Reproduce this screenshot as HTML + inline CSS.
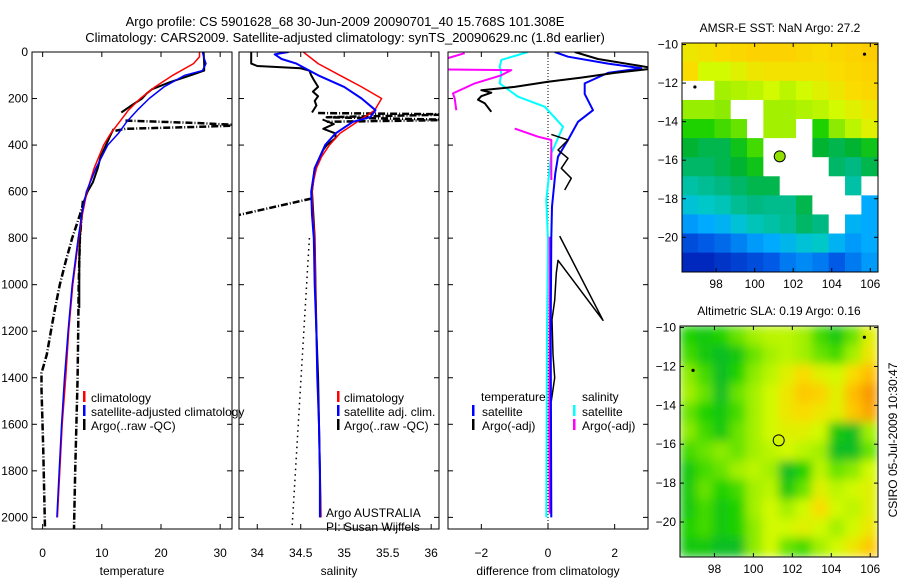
<!DOCTYPE html>
<html><head><meta charset="utf-8"><style>
body{margin:0;background:#fff;width:900px;height:580px;overflow:hidden}
svg{display:block;font-family:"Liberation Sans",sans-serif;font-size:12px}
</style></head><body>
<svg id="fig" width="900" height="580" viewBox="0 0 900 580">
<text x="345" y="26" text-anchor="middle" font-size="13">Argo profile: CS 5901628_68 30-Jun-2009 20090701_40 15.768S 101.308E</text>
<text x="345" y="42" text-anchor="middle" font-size="13">Climatology: CARS2009. Satellite-adjusted climatology: synTS_20090629.nc (1.8d earlier)</text>
<text transform="translate(897,440) rotate(-90)" text-anchor="middle">CSIRO 05-Jul-2009 10:30:47</text>
</svg>
<script>
// ---- Panel 1: temperature ----
const tClimDepth=[0,20,50,100,150,200,250,300,350,400,500,600,700,800,900,1000,1200,1400,1600,1800,2000];
const tClim=[26.5,26.5,25.5,22,19,16.5,14.5,13,11.5,10.3,8.7,7.5,6.7,6.1,5.6,5.1,4.4,3.9,3.3,2.9,2.5];
const tSatDepth=[0,20,50,80,100,150,200,250,300,350,400,500,600,700,800,900,1000,1200,1400,1600,1800,2000];
const tSat=[27,27.2,27.6,27,24,20.5,18,16,14.2,12.8,11,9,7.4,6.6,6.0,5.5,5.0,4.3,3.7,3.2,2.8,2.4];
const tArgoADepth=[0,50,80,100,130,160,180,200,230,260];
const tArgoA=[27.2,27.3,27.3,25,21.5,18.5,17.5,16.8,15,13.3];
const tArgoBDepth=[330,350,400,450,500,560,600,640,700,800,900,1000,1100];
const tArgoB=[12,11.6,10.7,9.8,9.3,8.5,7.6,7.0,6.6,6.3,6.2,6.2,6.2];
const tRaw1Depth=[295,305,315,322,330,340];
const tRaw1=[14,26,34,26,14,12];
const tRaw2Depth=[640,700,800,900,1000,1100,1200,1300,1380,1450,1700,2050];
const tRaw2=[7,6.3,5.0,3.9,2.9,2.1,1.4,0.7,-0.2,-0.2,0.1,0.4];
const tRaw3Depth=[640,800,1000,1200,1400,1600,1800,2050];
const tRaw3=[6.8,6.3,6.1,6.0,5.9,5.7,5.5,5.3];
const tTicks=[0,10,20,30];
const depthTicks=[0,200,400,600,800,1000,1200,1400,1600,1800,2000];
// ---- Panel 2: salinity ----
const sClimDepth=[0,50,100,150,200,250,300,350,400,450,500,550,600,700,800,1000,1200,1400,1600,1800,2000];
const sClim=[34.53,34.7,34.95,35.2,35.43,35.35,35.15,34.95,34.83,34.74,34.68,34.65,34.63,34.64,34.66,34.67,34.68,34.69,34.71,34.72,34.73];
const sSatDepth=[0,10,30,50,100,150,200,250,280,300,350,400,500,600,700,800,1000,1200,1400,1600,1800,2000];
const sSat=[34.36,34.2,34.28,34.45,34.7,35.0,35.2,35.36,35.3,35.1,34.9,34.78,34.66,34.62,34.63,34.65,34.66,34.68,34.69,34.71,34.72,34.72];
const sArgoADepth=[0,50,60,70,80,100,120,150,170,190,210,230,260];
const sArgoA=[33.93,33.93,34.0,34.5,34.6,34.62,34.65,34.7,34.64,34.7,34.66,34.68,34.63];
const sArgoBDepth=[290,310,330,350,370,400,420,500,600,800,1000,1200,1400,1600,1800,2000];
const sArgoB=[34.75,34.88,34.76,34.9,34.9,34.8,34.76,34.66,34.63,34.66,34.67,34.68,34.7,34.71,34.72,34.73];
const sRaw1Depth=[262,268,280,292,300];
const sRaw1=[34.7,36.3,34.8,36.3,34.8];
const sRaw2Depth=[630,700];
const sRaw2=[34.62,33.79];
const sDotDepth=[800,2050];
const sDot=[34.6,34.4];
const sTicks=[34,34.5,35,35.5,36];
// ---- Panel 3: differences ----
const dTSatDepth=[0,20,50,70,90,135,180,250,300,378,450,522,665,800,1200,2000];
const dTSat=[0.2,0.6,1.8,2.8,1.8,1.1,1.1,1.35,0.9,0.6,0.3,0.22,0.12,0.1,0.08,0.1];
const dTArgo1Depth=[0,30,70,90,110,128,150,164,175,190,205,220,257];
const dTArgo1=[0.8,1.5,3.2,2.0,1.0,0.0,-1.0,-2.0,-1.7,-2.0,-2.1,-1.9,-1.7];
const dTArgo2Depth=[354,378,421,457,500,543,593];
const dTArgo2=[0.1,0.6,0.3,0.6,0.4,0.7,0.5];
const dTArgo3Depth=[791,1153,895,950,1067,1150,1300,1400,1500];
const dTArgo3=[0.35,1.65,0.3,0.25,0.2,0.12,0.15,0.2,0.1];
const dSSatDepth=[0,34,63,92,135,192,235,321,436,637,808,1200,2000];
const dSSat=[-0.6,-1.4,-1.45,-1.4,-1.45,-0.9,-0.1,0.45,0.1,-0.05,0,-0.03,-0.05];
const dSArgo1Depth=[5,30,75,78,100,135,178,200,250];
const dSArgo1=[-2.5,-3.1,-3.1,-1.1,-1.4,-2.2,-2.85,-2.8,-2.75];
const dSArgo2Depth=[329,364,378,436,550];
const dSArgo2=[-1.0,-0.3,0.1,0.1,0.1];
const dSArgo3Depth=[794,1200,1600,1984];
const dSArgo3=[0.05,0.05,0.04,0.05];
const dTicks=[-2,0,2];
// ---- Maps ----
const lonTicks=[98,100,102,104,106];
const latTicks=[-10,-12,-14,-16,-18,-20];
const N=null;
const sstGrid=[
[.74,.75,.76,.77,.78,.78,.78,.77,.76,.77,.78,.79],
[.76,.70,.70,.72,.74,.75,.75,.75,.75,.76,.77,.78],
[N,N,.66,.67,.68,.70,.68,.70,.72,.74,.76,.77],
[.65,.65,.64,N,N,.66,.66,.67,.68,.70,.72,.74],
[.58,.58,.60,.62,N,.66,.66,N,.58,.64,.68,.72],
[.52,.50,.50,.55,.60,N,N,N,.52,.50,.52,.55],
[.48,.48,.50,.52,.55,N,N,N,N,.48,.46,.50],
[.42,.44,.46,.48,.50,.50,N,N,N,N,.42,N],
[.36,.38,.40,.44,.46,.45,.45,.50,N,N,N,.30],
[.28,.30,.32,.36,.40,.42,.44,.48,.46,N,.32,.30],
[.18,.20,.22,.25,.28,.30,.33,.36,.38,.32,.28,.30],
[.12,.12,.14,.16,.18,.20,.24,.26,.24,.20,.24,.28]];
const slaGrid=[
[.58,.56,.58,.62,.66,.68,.68,.66,.60,.56,.62,.72],
[.60,.56,.54,.56,.62,.66,.68,.66,.62,.60,.66,.74],
[.64,.60,.54,.58,.64,.68,.72,.76,.72,.70,.76,.82],
[.66,.62,.54,.62,.66,.70,.74,.80,.78,.72,.82,.88],
[.62,.58,.56,.60,.66,.70,.74,.76,.74,.72,.80,.86],
[.64,.60,.56,.62,.66,.70,.72,.72,.70,.56,.54,.66],
[.60,.62,.64,.62,.66,.68,.70,.68,.66,.54,.54,.62],
[.56,.60,.62,.66,.68,.66,.54,.58,.68,.62,.64,.70],
[.56,.62,.58,.60,.66,.68,.56,.62,.72,.68,.70,.72],
[.56,.60,.56,.58,.66,.70,.66,.70,.76,.70,.68,.72],
[.58,.60,.56,.58,.64,.70,.70,.72,.70,.66,.70,.74],
[.56,.56,.54,.54,.64,.70,.62,.60,.66,.70,.74,.80]];
const argoLon=[101.3], argoLat=[-15.8];
const markLon=[105.7,96.9], markLat=[-10.5,-12.2];

const NS='http://www.w3.org/2000/svg', svg=document.getElementById('fig');
function mk(tag,at,parent){const e=document.createElementNS(NS,tag);for(const k in at)e.setAttribute(k,at[k]);(parent||svg).appendChild(e);return e;}
function lin(d0,d1,r0,r1){return v=>r0+(v-d0)*(r1-r0)/(d1-d0);}
const yD=lin(0,2050,52,529);

function panel(name,x0,x1,xmin,xmax,xt,xlabel,showY,fmt){
  const xs=lin(xmin,xmax,x0,x1);
  const g=mk('g',{});
  
  
  const cid='clip-'+name;
  const cp=mk('clipPath',{id:cid},g);mk('rect',{x:x0,y:52,width:x1-x0,height:477},cp);
  const plot=mk('g',{'clip-path':'url(#'+cid+')'},g);
  depthTicks.forEach(d=>{const y=yD(d);
    mk('line',{x1:x0,x2:x0+5,y1:y,y2:y,stroke:'#000'},g);mk('line',{x1:x1,x2:x1-5,y1:y,y2:y,stroke:'#000'},g);
    if(showY){const t=mk('text',{x:x0-4,y:y+4,'text-anchor':'end'},g);t.textContent=d;
      }});
  xt.forEach(v=>{const x=xs(v);
    mk('line',{x1:x,x2:x,y1:529,y2:524,stroke:'#000'},g);mk('line',{x1:x,x2:x,y1:52,y2:57,stroke:'#000'},g);
    const t=mk('text',{x:x,y:557,'text-anchor':'middle'},g);t.textContent=fmt?fmt(v):v;
    });
  const xl=mk('text',{x:(x0+x1)/2,y:575,'text-anchor':'middle'},g);xl.textContent=xlabel;
  
  mk('rect',{x:x0,y:52,width:x1-x0,height:477,fill:'none',stroke:'#000'},g);
  return {plot,xs};
}
function line(p,name,ds,vs,color,w,dash){
  const pts=ds.map((d,i)=>p.xs(vs[i]).toFixed(1)+','+yD(d).toFixed(1)).join(' ');
  const a={points:pts,fill:'none',stroke:color,'stroke-width':w,'stroke-linejoin':'round'};
  if(dash)a['stroke-dasharray']=dash;
  const e=mk('polyline',a,p.plot);
  
  
}
function txt(x,y,s,name,color){const t=mk('text',{x:x,y:y,fill:color||'#000'});t.textContent=s;
  return t;}
function bar(x,y,c,name){const e=mk('rect',{x:x,y:y-10,width:2.5,height:11,fill:c});
  }

const DD='7,2,1,2';
const p1=panel('temperature-panel',32,232,-1.8,32,tTicks,'temperature',true);
line(p1,'argo-raw-line',tRaw1Depth,tRaw1,'#000',2.5,DD);
line(p1,'argo-raw-line',tRaw2Depth,tRaw2,'#000',2.5,DD);
line(p1,'argo-raw-line',tRaw3Depth,tRaw3,'#000',2.5,DD);
line(p1,'argo-qc-line',tArgoADepth,tArgoA,'#000',2);
line(p1,'argo-qc-line',tArgoBDepth,tArgoB,'#000',2);
line(p1,'climatology-line',tClimDepth,tClim,'#f00',1.5);
line(p1,'satellite-adjusted-line',tSatDepth,tSat,'#00f',1.5);
bar(83,401,'#f00','legend-climatology-marker');txt(91,402,'climatology','legend-climatology');
bar(83,415,'#00f','legend-satellite-marker');txt(91,416,'satellite-adjusted climatology','legend-satellite');
bar(83,429,'#000','legend-argo-marker');txt(91,430,'Argo(..raw -QC)','legend-argo');

const p2=panel('salinity-panel',239,439,33.79,36.09,sTicks,'salinity',false);
line(p2,'argo-raw-line',sRaw1Depth,sRaw1,'#000',2.5,DD);
line(p2,'argo-raw-line',sRaw2Depth,sRaw2,'#000',2.5,DD);
line(p2,'dotted-reference-line',sDotDepth,sDot,'#000',1.5,'1.5,4');
line(p2,'argo-qc-line',sArgoADepth,sArgoA,'#000',2);
line(p2,'argo-qc-line',sArgoBDepth,sArgoB,'#000',2);
line(p2,'climatology-line',sClimDepth,sClim,'#f00',1.5);
line(p2,'satellite-adjusted-line',sSatDepth,sSat,'#00f',2);
bar(337,401,'#f00','legend-climatology-marker');txt(344,402,'climatology','legend-climatology');
bar(337,415,'#00f','legend-satellite-marker');txt(344,416,'satellite adj. clim.','legend-satellite');
bar(337,429,'#000','legend-argo-marker');txt(344,430,'Argo(..raw -QC)','legend-argo');
txt(326,517,'Argo AUSTRALIA','argo-australia-label');
txt(326,531,'PI: Susan Wijffels','pi-label');

const p3=panel('difference-panel',448,648,-3.0,3.0,dTicks,'difference from climatology',false,v=>v===0?'0':(v<0?'\u22122':'2'));
mk('line',{x1:p3.xs(0),x2:p3.xs(0),y1:52,y2:529,stroke:'#000','stroke-dasharray':'1,2'},p3.plot);
line(p3,'temp-argo-diff-line',dTArgo3Depth,dTArgo3,'#000',1.5);
line(p3,'sal-sat-diff-line',dSSatDepth,dSSat,'#0ff',2);
line(p3,'sal-argo-diff-line',dSArgo1Depth,dSArgo1,'#f0f',2);
line(p3,'sal-argo-diff-line',dSArgo2Depth,dSArgo2,'#f0f',2);
line(p3,'sal-argo-diff-line',dSArgo3Depth,dSArgo3,'#f0f',2);
line(p3,'temp-sat-diff-line',dTSatDepth,dTSat,'#00f',2);
line(p3,'temp-argo-diff-line',dTArgo1Depth,dTArgo1,'#000',2);
line(p3,'temp-argo-diff-line',dTArgo2Depth,dTArgo2,'#000',1.5);
txt(481,401,'temperature','legend-temperature-heading');
bar(472,415,'#00f','legend-temp-sat-marker');txt(482,416,'satellite','legend-temp-sat');
bar(472,429,'#000','legend-temp-argo-marker');txt(482,430,'Argo(-adj)','legend-temp-argo');
txt(582,401,'salinity','legend-salinity-heading');
bar(573,415,'#0ff','legend-sal-sat-marker');txt(582,416,'satellite','legend-sal-sat');
bar(573,429,'#f0f','legend-sal-argo-marker');txt(582,430,'Argo(-adj)','legend-sal-argo');

// ---- maps ----
const stops=[[0,[0,10,130]],[.12,[0,40,190]],[.2,[0,90,230]],[.3,[0,170,255]],[.38,[0,200,200]],[.46,[0,185,130]],[.52,[0,180,50]],[.58,[30,210,0]],[.64,[140,235,0]],[.7,[210,250,0]],[.76,[250,220,0]],[.82,[255,190,0]],[.9,[245,140,0]],[1,[220,90,0]]];
function cmap(v){for(let i=1;i<stops.length;i++){if(v<=stops[i][0]){const a=stops[i-1],b=stops[i],t=(v-a[0])/(b[0]-a[0]);
  return 'rgb('+a[1].map((c,k)=>Math.round(c+(b[1][k]-c)*t)).join(',')+')';}}return 'rgb(220,90,0)';}
function map(name,title,grid,bx0,bx1,by0,by1,blur,fillArgo){
  const g=mk('g',{});
  
  const xs=lin(96.23,106.4,bx0,bx1), ys=lin(-9.92,-21.8,by0,by1);
  const cid='clip-'+name;const cp=mk('clipPath',{id:cid},g);mk('rect',{x:bx0,y:by0,width:bx1-bx0,height:by1-by0},cp);
  let inner=mk('g',{'clip-path':'url(#'+cid+')'},g);
  let cells=inner;
  if(blur){const f=mk('filter',{id:'blur-'+name,x:'-5%',y:'-5%',width:'110%',height:'110%'},g);mk('feGaussianBlur',{stdDeviation:blur},f);
    cells=mk('g',{filter:'url(#blur-'+name+')'},inner);}
  const nr=grid.length,nc=grid[0].length,cw=(bx1-bx0)/nc,ch=(by1-by0)/nr;
  grid.forEach((row,r)=>row.forEach((v,c)=>{
    const e=mk('rect',{x:bx0+c*cw-0.3,y:by0+r*ch-0.3,width:cw+0.6,height:ch+0.6,fill:v===null?'#fff':cmap(v)},cells);
    }));
  markLon.forEach((lo,i)=>{const e=mk('circle',{cx:xs(lo),cy:ys(markLat[i]),r:1.6,fill:'#000'},inner);
    });
  const ac=mk('circle',{cx:xs(argoLon[0]),cy:ys(argoLat[0]),r:5.5,fill:fillArgo||'none',stroke:'#000','stroke-width':1},inner);
  
  mk('rect',{x:bx0,y:by0,width:bx1-bx0,height:by1-by0,fill:'none',stroke:'#000'},g);
  lonTicks.forEach(v=>{const x=xs(v);mk('line',{x1:x,x2:x,y1:by1,y2:by1-4,stroke:'#000'},g);mk('line',{x1:x,x2:x,y1:by0,y2:by0+4,stroke:'#000'},g);
    const t=mk('text',{x:x,y:by1+16,'text-anchor':'middle'},g);t.textContent=v;
    });
  latTicks.forEach(v=>{const y=ys(v);mk('line',{x1:bx0,x2:bx0+4,y1:y,y2:y,stroke:'#000'},g);mk('line',{x1:bx1,x2:bx1-4,y1:y,y2:y,stroke:'#000'},g);
    const t=mk('text',{x:bx0-4,y:y+4,'text-anchor':'end'},g);t.textContent=String(v).replace('-','\u2212');
    });
  const tt=mk('text',{x:(bx0+bx1)/2,y:by0-11,'text-anchor':'middle'},g);tt.textContent=title;
  
}
map('sst-map','AMSR-E SST: NaN Argo: 27.2',sstGrid,682,878,43,272,0,'#8fe000');
map('sla-map','Altimetric SLA: 0.19 Argo: 0.16',slaGrid,680,878,326,557,5,null);
</script>
</body></html>
